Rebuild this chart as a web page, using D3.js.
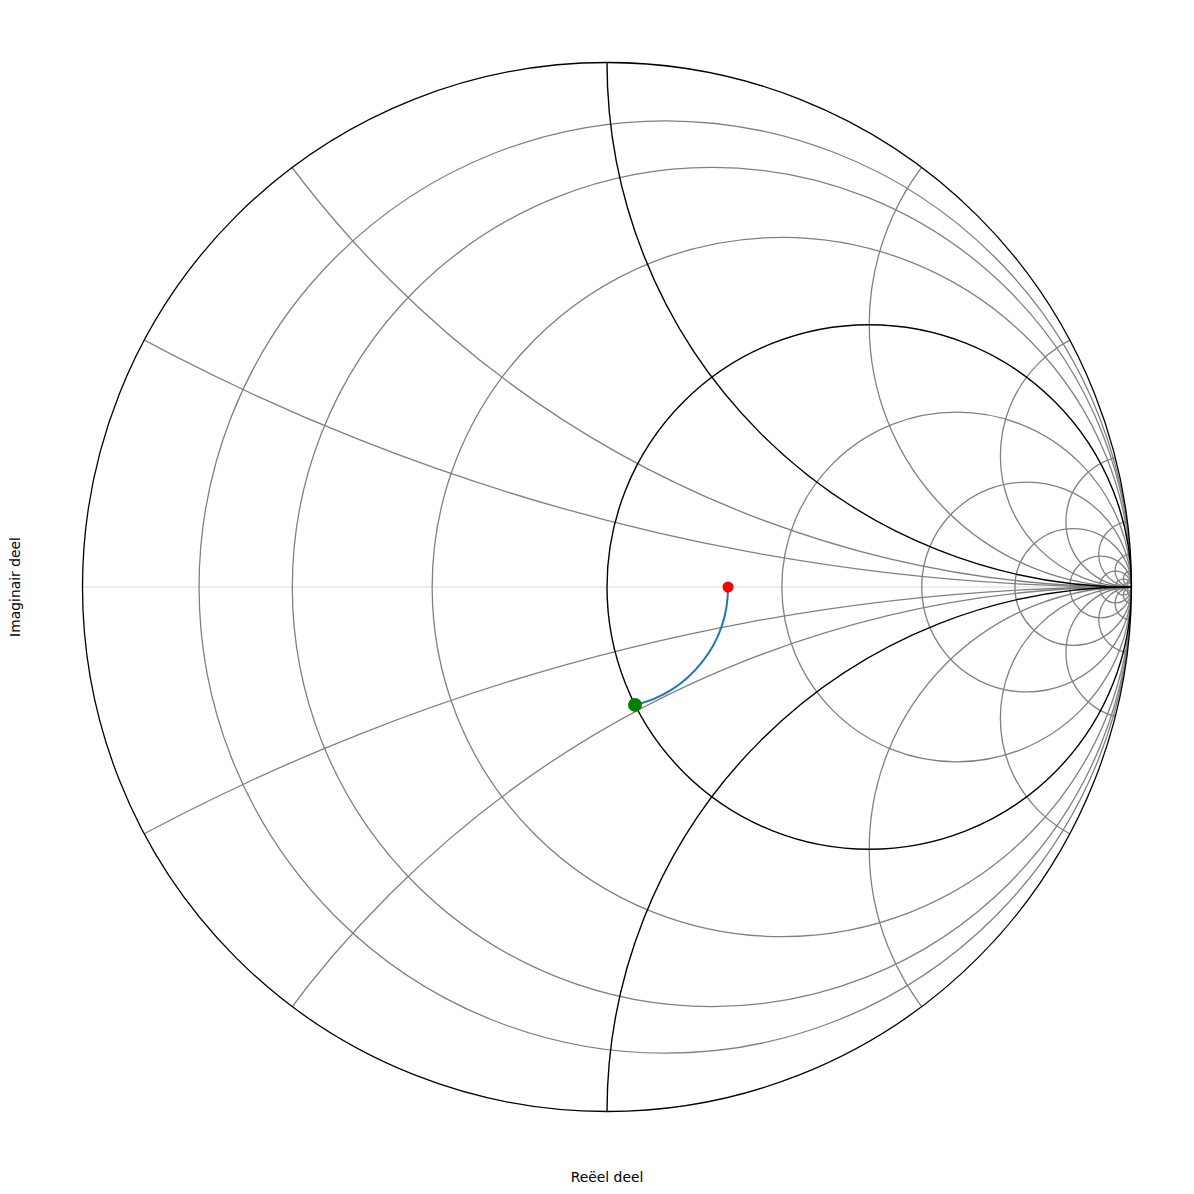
<!DOCTYPE html>
<html>
<head>
<meta charset="utf-8">
<script src="https://cdn.jsdelivr.net/npm/d3@7"></script>
<style>
  body { margin: 0; background: #fff; }
  text { font-family: "DejaVu Sans", sans-serif; font-size: 13.9px; fill: #000; }
</style>
</head>
<body>
<div class="chart"></div>
<script>
// ------------------- DATA
var resistanceValues = [0.125, 0.25, 0.5, 2, 4, 8, 16, 32, 64, 128];
var reactanceValues = [0.25, 0.5, 2, 4, 8, 16, 32, 64, 128];
var mainResistance = [1];
var mainReactance = [1, -1];
var loadImpedance = [1.6, 0];         // red start point (r, x)
var matchedImpedance = [1.0, -0.475]; // green point on r = 1 circle
var xLabel = "Reëel deel";
var yLabel = "Imaginair deel";

var width = 1194, height = 1194;

// ------------------- SCALES
var x = d3.scaleLinear().domain([-1, 1]).range([82.5, 1131.5]);
var y = d3.scaleLinear().domain([-1, 1]).range([1111.5, 62.5]);
var len = function(v){ return x(v) - x(0); };

function gamma(z){
  // reflection coefficient from normalized impedance
  var a = z[0] - 1, b = z[1], c = z[0] + 1, d = z[1];
  var den = c*c + d*d;
  return [(a*c + b*d)/den, (b*c - a*d)/den];
}

var svg = d3.select(".chart").append("svg")
  .attr("width", width)
  .attr("height", height);

svg.append("defs").append("clipPath").attr("id", "unit")
  .append("circle")
  .attr("cx", x(0)).attr("cy", y(0)).attr("r", len(1));

var grid = svg.append("g").attr("clip-path", "url(#unit)");

// real axis
grid.append("line")
  .attr("x1", x(-1)).attr("x2", x(1))
  .attr("y1", y(0)).attr("y2", y(0))
  .attr("stroke", "#e6e6e6")
  .attr("stroke-width", 1.4);

// ------------------- GRAY GRID
grid.selectAll("circle.r")
  .data(resistanceValues)
  .enter().append("circle")
  .attr("class", "r")
  .attr("cx", function(r){ return x(r/(1+r)); })
  .attr("cy", y(0))
  .attr("r", function(r){ return len(1/(1+r)); })
  .attr("fill", "none")
  .attr("stroke", "#808080")
  .attr("stroke-width", 1.3);

var allX = [];
reactanceValues.forEach(function(v){ allX.push(v); allX.push(-v); });

grid.selectAll("circle.x")
  .data(allX)
  .enter().append("circle")
  .attr("class", "x")
  .attr("cx", x(1))
  .attr("cy", function(v){ return y(1/v); })
  .attr("r", function(v){ return len(1/Math.abs(v)); })
  .attr("fill", "none")
  .attr("stroke", "#808080")
  .attr("stroke-width", 1.3);

// ------------------- BLACK GRID
grid.selectAll("circle.mr")
  .data(mainResistance)
  .enter().append("circle")
  .attr("class", "mr")
  .attr("cx", function(r){ return x(r/(1+r)); })
  .attr("cy", y(0))
  .attr("r", function(r){ return len(1/(1+r)); })
  .attr("fill", "none")
  .attr("stroke", "#000")
  .attr("stroke-width", 1.4);

grid.selectAll("circle.mx")
  .data(mainReactance)
  .enter().append("circle")
  .attr("class", "mx")
  .attr("cx", x(1))
  .attr("cy", function(v){ return y(1/v); })
  .attr("r", function(v){ return len(1/Math.abs(v)); })
  .attr("fill", "none")
  .attr("stroke", "#000")
  .attr("stroke-width", 1.4);

// outer border (r = 0)
svg.append("circle")
  .attr("cx", x(0)).attr("cy", y(0)).attr("r", len(1))
  .attr("fill", "none")
  .attr("stroke", "#000")
  .attr("stroke-width", 1.3);

// ------------------- TRAJECTORY
var g0 = gamma(loadImpedance);
var g1 = gamma(matchedImpedance);
var rad = len(Math.sqrt(g0[0]*g0[0] + g0[1]*g0[1]));

svg.append("path")
  .attr("d", "M" + x(g0[0]) + "," + y(g0[1]) +
             " A" + rad + "," + rad + " 0 0 1 " + x(g1[0]) + "," + y(g1[1]))
  .attr("fill", "none")
  .attr("stroke", "#1f77b4")
  .attr("stroke-width", 2);

svg.append("circle")
  .attr("cx", x(g0[0])).attr("cy", y(g0[1]))
  .attr("r", 5.5)
  .attr("fill", "#ff0000");

svg.append("circle")
  .attr("cx", x(g1[0])).attr("cy", y(g1[1]))
  .attr("r", 7)
  .attr("fill", "#008000");

// ------------------- LABELS
svg.append("text")
  .attr("x", x(0))
  .attr("y", 1182)
  .attr("text-anchor", "middle")
  .text(xLabel);

svg.append("text")
  .attr("transform", "translate(20," + y(0) + ") rotate(-90)")
  .attr("text-anchor", "middle")
  .text(yLabel);
</script>
</body>
</html>
